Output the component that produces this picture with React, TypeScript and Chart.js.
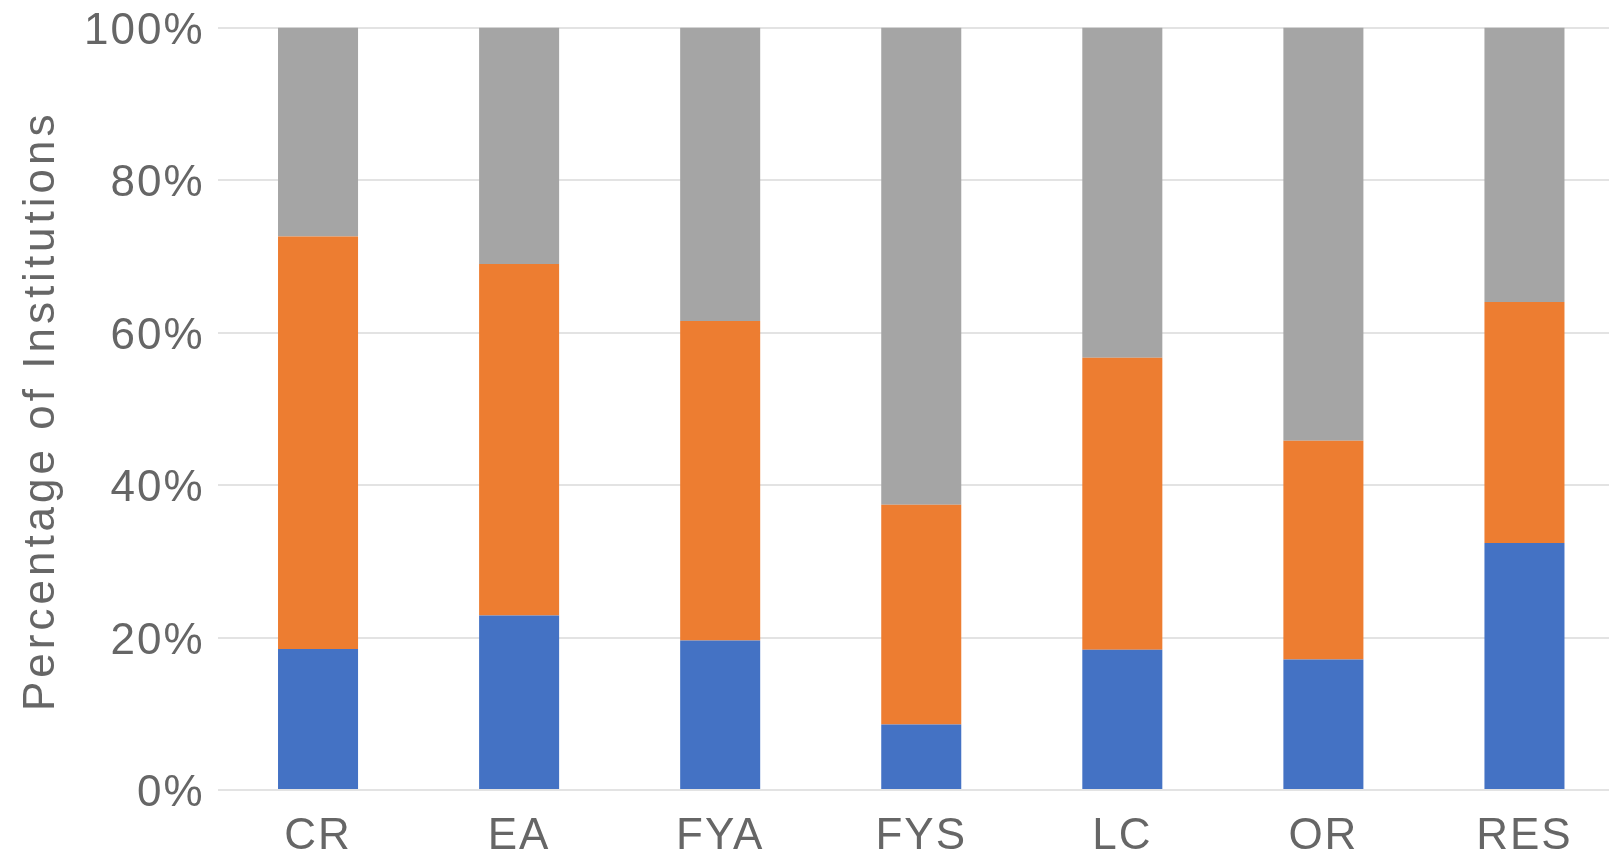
import React, { useEffect, useRef } from "react";
import { Chart, registerables } from "chart.js";

Chart.register(...registerables);

// Program categories along the x axis
const categories = ["CR", "EA", "FYA", "FYS", "LC", "OR", "RES"];

// Stacked shares (percent of institutions), bottom to top
const blueShare = [18.5, 22.9, 19.6, 8.6, 18.4, 17.1, 32.4];
const orangeShare = [54.1, 46.1, 41.9, 28.8, 38.3, 28.7, 31.6];
const greyShare = [27.4, 31.0, 38.5, 62.6, 43.3, 54.2, 36.0];

// Y axis tick values
const yTicks = [0, 20, 40, 60, 80, 100];

const yTitle = "Percentage of Institutions";

const FONT = '"Liberation Sans", Arial, sans-serif';
const TEXT_COLOR = "#666666";
const GRID_COLOR = "#e3e3e3";

const CANVAS_W = 1625;
const CANVAS_H = 863;

// Sets a small tracking on all axis text, and paints the rotated y title
const textPlugin = {
  id: "axisText",
  beforeUpdate(chart: any) {
    chart.ctx.letterSpacing = "2px";
  },
  beforeDraw(chart: any) {
    chart.ctx.letterSpacing = "2px";
  },
  afterDraw(chart: any) {
    const { ctx, chartArea } = chart;
    ctx.save();
    ctx.letterSpacing = "4px";
    ctx.font = `44px ${FONT}`;
    ctx.fillStyle = TEXT_COLOR;
    ctx.textAlign = "center";
    ctx.textBaseline = "alphabetic";
    ctx.translate(54, (chartArea.top + chartArea.bottom) / 2 + 2);
    ctx.rotate(-Math.PI / 2);
    ctx.fillText(yTitle, 0, 0);
    ctx.restore();
  },
};

export default function App() {
  const canvasRef = useRef<HTMLCanvasElement | null>(null);

  useEffect(() => {
    const canvas = canvasRef.current;
    if (!canvas) return;
    const chart = new Chart(canvas, {
      type: "bar",
      data: {
        labels: categories,
        datasets: [
          { label: "Series 1", data: blueShare, backgroundColor: "#4472C4" },
          { label: "Series 2", data: orangeShare, backgroundColor: "#ED7D31" },
          { label: "Series 3", data: greyShare, backgroundColor: "#A5A5A5" },
        ],
      },
      options: {
        responsive: false,
        animation: false,
        devicePixelRatio: 1,
        layout: { padding: { left: 0, right: 0, top: 27.5, bottom: 0 } },
        datasets: {
          bar: { categoryPercentage: 1, barPercentage: 0.398, borderWidth: 0 },
        },
        plugins: {
          legend: { display: false },
          tooltip: { enabled: false },
          title: { display: false },
        },
        scales: {
          x: {
            stacked: true,
            afterFit(scale: any) {
              scale.height = 73;
              scale.paddingLeft = 0;
              scale.paddingRight = 0;
            },
            grid: { display: false, drawTicks: false },
            border: { display: false },
            ticks: {
              padding: 20,
              color: TEXT_COLOR,
              font: { family: FONT, size: 44 },
              maxRotation: 0,
            },
          },
          y: {
            stacked: true,
            min: 0,
            max: 100,
            afterBuildTicks(scale: any) {
              scale.ticks = yTicks.map((v) => ({ value: v }));
            },
            afterFit(scale: any) {
              scale.width = 217.5;
              scale.paddingTop = 0;
              scale.paddingBottom = 0;
            },
            grid: {
              color: GRID_COLOR,
              lineWidth: 2,
              drawTicks: false,
            },
            border: { display: false },
            ticks: {
              padding: 13,
              labelOffset: 4,
              color: TEXT_COLOR,
              font: { family: FONT, size: 44 },
              callback: (v: any) => `${v}%`,
            },
          },
        },
      },
      plugins: [textPlugin],
    });
    return () => chart.destroy();
  }, []);

  return (
    <div
      style={{
        position: "absolute",
        left: 0,
        top: 0,
        width: 1609,
        height: 855,
        overflow: "hidden",
        background: "#ffffff",
      }}
    >
      <canvas
        ref={canvasRef}
        width={CANVAS_W}
        height={CANVAS_H}
        style={{ display: "block", width: CANVAS_W, height: CANVAS_H }}
      />
    </div>
  );
}
